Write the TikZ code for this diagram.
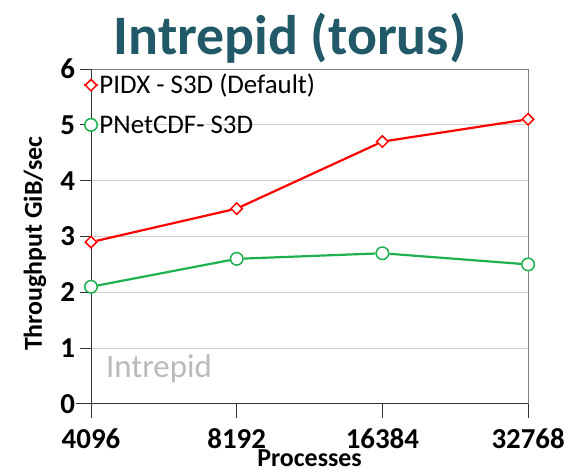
\documentclass[tikz,border=0pt]{standalone}
\usepackage{fontspec}
\setmainfont{Carlito}
\usepackage{tikz}
\definecolor{titleteal}{HTML}{215968}
\definecolor{pidxred}{HTML}{FF0000}
\definecolor{pnetgreen}{HTML}{1CB04E}
\definecolor{gridgray}{HTML}{D0D0D0}
\usetikzlibrary{positioning, shapes.geometric}
\tikzstyle{redmark} = [draw=pidxred, diamond, line width=1.5bp, inner sep=0pt, minimum size=12bp, fill=white]
\tikzstyle{greenmark} = [draw=pnetgreen, circle, line width=1.5bp, inner sep=0pt, minimum size=12.5bp, fill=white]
\tikzstyle{redline} = [draw=pidxred, line width=2.2bp]
\tikzstyle{greenline} = [draw=pnetgreen, line width=2.2bp]
\tikzstyle{ticklabel} = [font=\fontsize{29}{32}\selectfont\bfseries]

\begin{document}
\begin{tikzpicture}[x=1bp, y=1bp]
    \useasboundingbox (0,0) rectangle (569,474);
    % Title
    \node [font=\fontsize{56}{64}\selectfont\bfseries, text=titleteal] (title) at (290,436) {Intrepid (torus)};

  \begin{scope}[shift={(91,70)}, x=145.7bp, y=55.83bp]
    % Grid and frame
    \foreach \v in {1,...,5}
      \draw [gridgray, line width=0.8bp] (0,\v) -- (3,\v);
    \draw [gray, line width=1bp] (0,6) -- (3,6) -- (3,0);
    \draw [black!80, line width=1bp] (-0.1,0) -- (3,0);
    \draw [black!80, line width=1bp] (0,-0.25) -- (0,6);
    \foreach \v in {0,...,6} {
      \draw [black!80, line width=1bp] (-0.075,\v) -- (0,\v);
      \node [ticklabel, anchor=east] (y\v) at (-0.085,\v) {\v};
    }
    \foreach \x/\lab in {0/4096, 1/8192, 2/16384, 3/32768} {
      \draw [black!80, line width=1bp] (\x,0) -- (\x,-0.25);
      \node [ticklabel, anchor=base, inner sep=0pt] (x\x) at (\x,-0.8) {\lab};
    }

    % Axis titles
    \node [font=\fontsize{26}{30}\selectfont\bfseries, anchor=base, inner sep=0pt] (xlabel) at (1.5,-1.12) {Processes};
    \node [font=\fontsize{26}{30}\selectfont\bfseries, rotate=90] (ylabel) at (-0.385,2.87) {Throughput GiB/sec};
    \node [font=\fontsize{33}{36}\selectfont, text=black!27, anchor=west] (watermark) at (0.08,0.63) {Intrepid};

    % Place the data points
    \node [redmark] (p1) at (0,2.9) {};
    \node [redmark] (p2) at (1,3.5) {};
    \node [redmark] (p3) at (2,4.7) {};
    \node [redmark] (p4) at (3,5.1) {};
    \node [greenmark] (n1) at (0,2.1) {};
    \node [greenmark] (n2) at (1,2.6) {};
    \node [greenmark] (n3) at (2,2.7) {};
    \node [greenmark] (n4) at (3,2.5) {};

    % Connect the points
    \draw [redline] (p1) -- (p2) -- (p3) -- (p4);
    \draw [greenline] (n1) -- (n2) -- (n3) -- (n4);

    % Legend
    \coordinate (ra) at (-0.05,5.71);
    \coordinate (rb) at (0.05,5.71);
    \coordinate (ga) at (-0.05,5.0);
    \coordinate (gb) at (0.05,5.0);
    \draw [redline] (ra) -- (rb);
    \draw [greenline] (ga) -- (gb);
    \node [redmark] (rkey) at (0,5.71) {};
    \node [greenmark] (gkey) at (0,5.0) {};
    \node [font=\fontsize{27}{30}\selectfont, anchor=west, inner sep=1bp, right=0bp of rb] (rtext) {PIDX - S3D (Default)};
    \node [font=\fontsize{27}{30}\selectfont, anchor=west, inner sep=1bp, right=0bp of gb] (gtext) {PNetCDF- S3D};
  \end{scope}
\end{tikzpicture}
\end{document}
